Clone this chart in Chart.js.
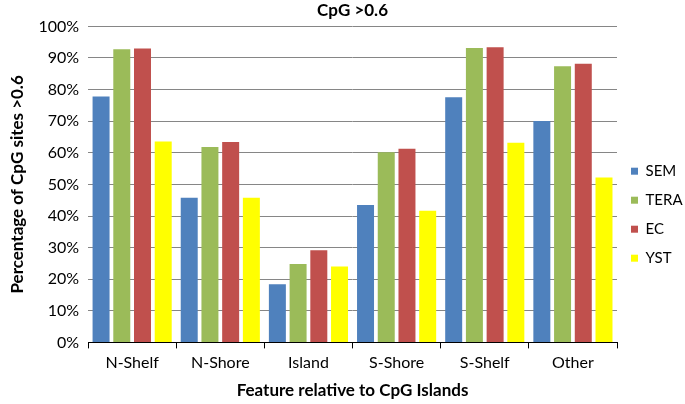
<!DOCTYPE html>
<html>
<head>
<meta charset="utf-8">
<script src="https://cdn.jsdelivr.net/npm/chart.js@4.4.0/dist/chart.umd.min.js"></script>
<style>
  html, body { margin: 0; padding: 0; background: #fff; }
  #wrap { width: 685px; height: 404px; }
</style>
</head>
<body>
<div id="wrap"><canvas id="myChart" width="685" height="404"></canvas></div>
<script>
// features relative to CpG islands
const categories = ["N-Shelf", "N-Shore", "Island", "S-Shore", "S-Shelf", "Other"];
const sem = [77.8, 45.8, 18.4, 43.5, 77.6, 70.1];
const tera = [92.8, 61.8, 24.8, 60.2, 93.2, 87.4];
const ec = [93.0, 63.4, 29.2, 61.3, 93.4, 88.2];
const yst = [63.6, 45.8, 24.0, 41.7, 63.2, 52.2];
const yTicks = [0, 10, 20, 30, 40, 50, 60, 70, 80, 90, 100];

const fontFamily = "Lato, 'Open Sans', sans-serif";

let ctx = document.getElementById("myChart");
let myChart = new Chart(ctx, {
  type: "bar",
  data: {
    labels: categories,
    datasets: [
      { label: "SEM", data: sem, backgroundColor: "#4F81BD" },
      { label: "TERA", data: tera, backgroundColor: "#9BBB59" },
      { label: "EC", data: ec, backgroundColor: "#C0504D" },
      { label: "YST", data: yst, backgroundColor: "#FFFF00" },
    ],
  },
  options: {
    responsive: false,
    animation: false,
    devicePixelRatio: 1,
    layout: { padding: { left: 7, right: 0, top: 0, bottom: 3 } },
    datasets: {
      bar: { categoryPercentage: 0.94, barPercentage: 0.82 },
    },
    plugins: {
      title: {
        display: true,
        text: "CpG >0.6",
        fullSize: false,
        color: "#000",
        font: { family: fontFamily, size: 17, weight: "bold" },
        padding: { top: 0, bottom: 6 },
      },
      legend: {
        position: "right",
        maxWidth: 68,
        title: { display: true, text: "", font: { size: 12 }, padding: 7 },
        labels: {
          boxWidth: 7,
          boxHeight: 7,
          padding: 14,
          color: "#000",
          font: { family: fontFamily, size: 15 },
        },
      },
      tooltip: { enabled: false },
    },
    scales: {
      x: {
        grid: {
          drawOnChartArea: false,
          drawTicks: true,
          tickLength: 6,
          color: "#000",
          offset: true,
        },
        border: { color: "#000", width: 1 },
        ticks: { color: "#000", font: { family: fontFamily, size: 16 }, padding: 5 },
        title: {
          display: true,
          text: "Feature relative to CpG Islands",
          color: "#000",
          font: { family: fontFamily, size: 17, weight: "bold" },
          padding: { top: 3, bottom: 0 },
        },
      },
      y: {
        min: 0,
        max: 100,
        afterBuildTicks: (axis) => {
          axis.ticks = yTicks.map((v) => ({ value: v }));
        },
        grid: { color: "#868686", drawTicks: false },
        border: { display: false },
        ticks: {
          color: "#000",
          padding: 9,
          font: { family: fontFamily, size: 16 },
          callback: (v) => v + "%",
        },
        title: {
          display: true,
          text: "Percentage of CpG sites >0.6",
          color: "#000",
          font: { family: fontFamily, size: 17, weight: "bold" },
          padding: { top: 0, bottom: 2 },
        },
      },
    },
  },
});
</script>
</body>
</html>
